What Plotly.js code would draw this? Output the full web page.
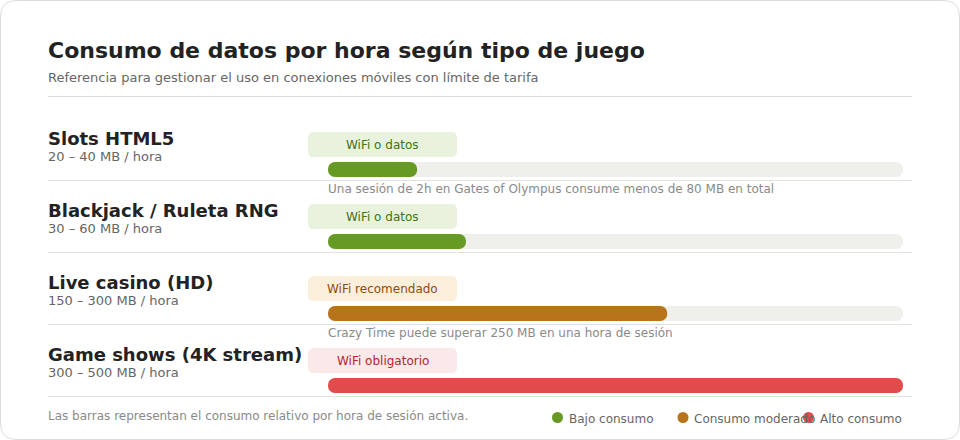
<!DOCTYPE html>
<html>
<head>
<meta charset="utf-8">
<script src="https://cdn.plot.ly/plotly-3.0.1.min.js"></script>
<style>
  html, body { margin: 0; padding: 0; background: #fff; }
  #chart { width: 960px; height: 440px; }
</style>
</head>
<body>
<div id="chart"></div>
<script>
// data
const juegos = ['Slots HTML5', 'Blackjack / Ruleta RNG', 'Live casino (HD)', 'Game shows (4K stream)'];
const rangos = ['20 – 40 MB / hora', '30 – 60 MB / hora', '150 – 300 MB / hora', '300 – 500 MB / hora'];
const consumoRelativo = [15.5, 24, 59, 100];   // % of the longest bar
const escalaMax = 100;
const niveles = ['bajo', 'bajo', 'moderado', 'alto'];
const conexion = ['WiFi o datos', 'WiFi o datos', 'WiFi recomendado', 'WiFi obligatorio'];
const notas = [
  'Una sesión de 2h en Gates of Olympus consume menos de 80 MB en total',
  '',
  'Crazy Time puede superar 250 MB en una hora de sesión',
  ''
];
const nivelNombres = ['Bajo consumo', 'Consumo moderado', 'Alto consumo'];
const nivelClaves = ['bajo', 'moderado', 'alto'];

const W = 960, H = 440;
const FONT = '"DejaVu Sans", Verdana, sans-serif';
const colores = {
  bajo: { bar: '#669a22', bg: '#e8f2dd', txt: '#3f7414' },
  moderado: { bar: '#b8741a', bg: '#fbeedb', txt: '#87500c' },
  alto: { bar: '#e24b4b', bg: '#fbe9e9', txt: '#b3262d' }
};

const px = x => x / W;
const py = y => 1 - y / H;

// rounded rectangle path in paper coords from pixel box
function roundRect (x0, y0, x1, y1, r) {
  const P = (x, y) => px(x) + ',' + py(y);
  return 'M' + P(x0 + r, y0) + ' L' + P(x1 - r, y0) + ' Q' + P(x1, y0) + ' ' + P(x1, y0 + r) +
    ' L' + P(x1, y1 - r) + ' Q' + P(x1, y1) + ' ' + P(x1 - r, y1) +
    ' L' + P(x0 + r, y1) + ' Q' + P(x0, y1) + ' ' + P(x0, y1 - r) +
    ' L' + P(x0, y0 + r) + ' Q' + P(x0, y0) + ' ' + P(x0 + r, y0) + ' Z';
}

// row geometry (pixels)
const rowTop = 108, rowH = 72, barCenter = 169.5, barH = 15;

// a bar given an explicit base gets both ends rounded
function pill (values, color) {
  return {
    type: 'bar', orientation: 'h', y: juegos, x: values, base: values.map(() => 0),
    width: barH / rowH, marker: { color: color, cornerradius: '50%' },
    hoverinfo: 'skip', showlegend: false
  };
}

const traces = [
  pill(juegos.map(() => escalaMax), '#efefec'),
  pill(consumoRelativo, niveles.map(n => colores[n].bar))
];

const shapes = [
  { type: 'path', xref: 'paper', yref: 'paper', path: roundRect(0.5, 0.5, 959.5, 439.5, 16),
    line: { color: '#dcdcd6', width: 1 }, fillcolor: 'rgba(0,0,0,0)', layer: 'below' },
  { type: 'line', xref: 'paper', yref: 'paper', x0: px(48), x1: px(912), y0: py(96.5), y1: py(96.5),
    line: { color: '#dcdcd6', width: 1 } }
];
const annotations = [
  { xref: 'paper', yref: 'paper', x: px(47), y: py(50), xanchor: 'left', yanchor: 'middle',
    text: '<b>Consumo de datos por hora según tipo de juego</b>', showarrow: false,
    font: { family: FONT, size: 22, color: '#222' }, borderpad: 0 },
  { xref: 'paper', yref: 'paper', x: px(47), y: py(77), xanchor: 'left', yanchor: 'middle',
    text: 'Referencia para gestionar el uso en conexiones móviles con límite de tarifa', showarrow: false,
    font: { family: FONT, size: 13, color: '#666' }, borderpad: 0 }
];

juegos.forEach((j, i) => {
  const top = rowTop + i * rowH;
  const mid = barCenter + i * rowH;   // pixel row of this category on the y axis
  const c = colores[niveles[i]];
  shapes.push({ type: 'path', xref: 'paper', yref: 'paper', path: roundRect(308, top + 24, 457, top + 49, 6),
    fillcolor: c.bg, line: { width: 0 }, layer: 'below' });
  shapes.push({ type: 'line', xref: 'paper', yref: 'paper', x0: px(48), x1: px(912),
    y0: py(top + 72.5), y1: py(top + 72.5), line: { color: '#e2e2dc', width: 1 }, layer: 'below' });
  annotations.push({ xref: 'paper', yref: 'y', x: px(47), y: j, yshift: mid - (top + 30.5),
    xanchor: 'left', yanchor: 'middle', text: '<b>' + j + '</b>', showarrow: false,
    font: { family: FONT, size: 18, color: '#222' }, borderpad: 0 });
  annotations.push({ xref: 'paper', yref: 'y', x: px(47), y: j, yshift: mid - (top + 48.5),
    xanchor: 'left', yanchor: 'middle', text: rangos[i], showarrow: false,
    font: { family: FONT, size: 13, color: '#666' }, borderpad: 0 });
  annotations.push({ xref: 'paper', yref: 'y', x: px(382.5), y: j, yshift: mid - (top + 36.5),
    xanchor: 'center', yanchor: 'middle', text: conexion[i], showarrow: false,
    font: { family: FONT, size: 12, color: c.txt }, borderpad: 0 });
  if (notas[i]) {
    annotations.push({ xref: 'paper', yref: 'y', x: px(327), y: j, yshift: mid - (top + 80.5),
      xanchor: 'left', yanchor: 'middle', text: notas[i], showarrow: false,
      font: { family: FONT, size: 12, color: '#8a8a8a' }, borderpad: 0 });
  }
});

// footer + legend
annotations.push({ xref: 'paper', yref: 'paper', x: px(47), y: py(415.5), xanchor: 'left', yanchor: 'middle',
  text: 'Las barras representan el consumo relativo por hora de sesión activa.', showarrow: false,
  font: { family: FONT, size: 12, color: '#8a8a8a' }, borderpad: 0 });
nivelNombres.forEach((nombre, k) => {
  const cx = 557.5 + k * 125.5, cy = 417.5;
  shapes.push({ type: 'circle', xref: 'paper', yref: 'paper', x0: px(cx - 5.5), x1: px(cx + 5.5),
    y0: py(cy - 5.5), y1: py(cy + 5.5), fillcolor: colores[nivelClaves[k]].bar, line: { width: 0 } });
  annotations.push({ xref: 'paper', yref: 'paper', x: px(cx + 10), y: py(419), xanchor: 'left', yanchor: 'middle',
    text: nombre, showarrow: false, font: { family: FONT, size: 12, color: '#666' }, borderpad: 0 });
});

const layout = {
  width: W, height: H,
  margin: { l: 0, r: 0, t: 0, b: 0 },
  paper_bgcolor: '#fff', plot_bgcolor: 'rgba(0,0,0,0)',
  barmode: 'overlay',
  showlegend: false,
  xaxis: { domain: [px(328), px(903)], range: [0, escalaMax], visible: false, fixedrange: true },
  yaxis: {
    type: 'category', categoryorder: 'array', categoryarray: juegos,
    range: [(H - barCenter) / rowH, -barCenter / rowH],
    visible: false, fixedrange: true
  },
  shapes: shapes,
  annotations: annotations,
  font: { family: FONT }
};

Plotly.newPlot('chart', traces, layout, { displayModeBar: false, staticPlot: true });
</script>
</body>
</html>
